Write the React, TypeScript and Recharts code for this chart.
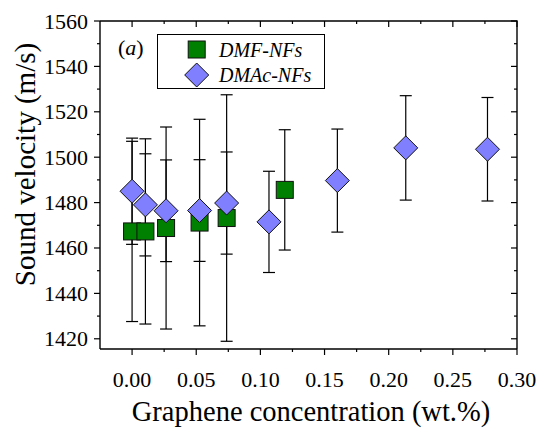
import React from 'react';
import { ScatterChart, Scatter, XAxis, YAxis, ErrorBar, Customized } from 'recharts';

// graphene concentration (wt.%), sound velocity (m/s), error (m/s)
const dmfConc = [0.0, 0.0104, 0.0265, 0.0526, 0.0737, 0.119];
const dmfVel = [1467.3, 1467.3, 1468.8, 1471.2, 1473.2, 1485.6];
const dmfErr = [39.7, 40.8, 44.5, 45.5, 54.3, 26.5];

const dmacConc = [0.0, 0.0104, 0.0265, 0.0526, 0.0737, 0.1067, 0.16, 0.2133, 0.277];
const dmacVel = [1485.0, 1479.0, 1476.4, 1476.5, 1479.8, 1471.5, 1489.7, 1504.1, 1503.5];
const dmacErr = [23.4, 22.5, 22.4, 22.4, 22.5, 22.3, 22.7, 23.0, 22.8];

const xMajorTicks = [0, 0.05, 0.1, 0.15, 0.2, 0.25, 0.3];
const xMinorTicks = [0.025, 0.075, 0.125, 0.175, 0.225, 0.275];
const yMajorTicks = [1420, 1440, 1460, 1480, 1500, 1520, 1540, 1560];
const yMinorTicks = [1430, 1450, 1470, 1490, 1510, 1530, 1550];

const dmfData = dmfConc.map((c, i) => ({ x: c, y: dmfVel[i], err: dmfErr[i] }));
const dmacData = dmacConc.map((c, i) => ({ x: c, y: dmacVel[i], err: dmacErr[i] }));

const xTicks = [...xMajorTicks, ...xMinorTicks].sort((a, b) => a - b);
const yTicks = [...yMajorTicks, ...yMinorTicks].sort((a, b) => a - b);

// layout
const W = 539;
const H = 429;
const margin = { top: 21, right: 22, left: 0, bottom: 0 };
const yAxisW = 100;
const xAxisH = 80;
const plotTop = margin.top;
const plotLeft = margin.left + yAxisW;
const plotRight = W - margin.right;
const plotBottom = H - margin.bottom - xAxisH;

const FONT = "'Liberation Serif', 'Times New Roman', Times, serif";
const serif = { fontFamily: FONT };

const Square = (props: any) => {
  const { cx, cy } = props;
  if (cx == null || cy == null) return <g />;
  return <rect x={cx - 8.5} y={cy - 8.5} width={17} height={17} fill="#008000" stroke="#111" strokeWidth={1} />;
};

const Diamond = (props: any) => {
  const { cx, cy } = props;
  if (cx == null || cy == null) return <g />;
  const r = 12;
  return (
    <polygon
      points={`${cx},${cy - r} ${cx + r},${cy} ${cx},${cy + r} ${cx - r},${cy}`}
      fill="#8080ff"
      stroke="#111"
      strokeWidth={1}
    />
  );
};

const Nothing = () => <g />;

const isMajor = (v: number, majors: number[]) => majors.some((m) => Math.abs(m - v) < 1e-9);

// bottom ticks point out, mirrored top ticks point in
const XTick = (props: any) => {
  const { x, y, payload } = props;
  const v = payload.value;
  const major = isMajor(v, xMajorTicks);
  const len = major ? 6 : 3;
  return (
    <g>
      <line x1={x} y1={y} x2={x} y2={y + len} stroke="#000" strokeWidth={1.2} />
      <line x1={x} y1={plotTop} x2={x} y2={plotTop + len} stroke="#000" strokeWidth={1.2} />
      {major && (
        <text x={x} y={y + 38} textAnchor="middle" style={serif} fontSize={22} fill="#000">
          {v.toFixed(2)}
        </text>
      )}
    </g>
  );
};

// left ticks point out, mirrored right ticks point in
const YTick = (props: any) => {
  const { x, y, payload } = props;
  const v = payload.value;
  const major = isMajor(v, yMajorTicks);
  const len = major ? 6 : 3;
  return (
    <g>
      <line x1={x - len} y1={y} x2={x} y2={y} stroke="#000" strokeWidth={1.2} />
      <line x1={plotRight - len} y1={y} x2={plotRight} y2={y} stroke="#000" strokeWidth={1.2} />
      {major && (
        <text x={x - 12} y={y + 7.5} textAnchor="end" style={serif} fontSize={22} fill="#000">
          {v}
        </text>
      )}
    </g>
  );
};

const Decorations = () => (
  <g style={serif} fill="#000">
    <path
      d={`M${plotLeft},${plotTop}H${plotRight}V${plotBottom}`}
      fill="none"
      stroke="#000"
      strokeWidth={1.4}
    />
    <text x={311} y={421} textAnchor="middle" fontSize={28.5} style={serif}>
      Graphene concentration (wt.%)
    </text>
    <text x={35} y={164.5} textAnchor="middle" fontSize={29} style={serif} transform="rotate(-90 35 164.5)">
      Sound velocity (m/s)
    </text>
    <text x={118} y={55} fontSize={22} style={serif}>
      (<tspan fontStyle="italic">a</tspan>)
    </text>
    <rect x={157.5} y={34.5} width={167} height={54} fill="#fff" stroke="#000" strokeWidth={1} />
    <Square cx={196.7} cy={49.5} />
    <Diamond cx={196.7} cy={75} />
    <text x={219} y={57} fontSize={20} fontStyle="italic" style={serif}>DMF-NFs</text>
    <text x={219} y={82} fontSize={20} fontStyle="italic" style={serif}>DMAc-NFs</text>
  </g>
);

const axisStroke = { stroke: '#000', strokeWidth: 1.4 };

export default function App() {
  return (
    <div style={{ position: 'fixed', left: 0, top: 0, width: W, height: H, background: '#fff' }}>
      <ScatterChart width={W} height={H} margin={margin}>
        <XAxis
          type="number"
          dataKey="x"
          orientation="bottom"
          domain={[-0.025, 0.3]}
          allowDataOverflow
          ticks={xTicks}
          interval={0}
          height={xAxisH}
          tickSize={0}
          tickMargin={0}
          tickLine={false}
          axisLine={axisStroke}
          tick={XTick}
        />
        <YAxis
          type="number"
          dataKey="y"
          orientation="left"
          domain={[1415.5, 1560]}
          allowDataOverflow
          ticks={yTicks}
          interval={0}
          width={yAxisW}
          tickSize={0}
          tickMargin={0}
          tickLine={false}
          axisLine={axisStroke}
          tick={YTick}
        />
        <Scatter name="DMF-NFs" data={dmfData} shape={Square} isAnimationActive={false} />
        <Scatter name="DMAc-NFs" data={dmacData} shape={Diamond} isAnimationActive={false} />
        <Scatter data={dmfData} shape={Nothing} isAnimationActive={false}>
          <ErrorBar dataKey="err" direction="y" width={6} stroke="#000" strokeWidth={1.2} isAnimationActive={false} />
        </Scatter>
        <Scatter data={dmacData} shape={Nothing} isAnimationActive={false}>
          <ErrorBar dataKey="err" direction="y" width={6} stroke="#000" strokeWidth={1.2} isAnimationActive={false} />
        </Scatter>
        <Customized component={<Decorations />} />
      </ScatterChart>
    </div>
  );
}
